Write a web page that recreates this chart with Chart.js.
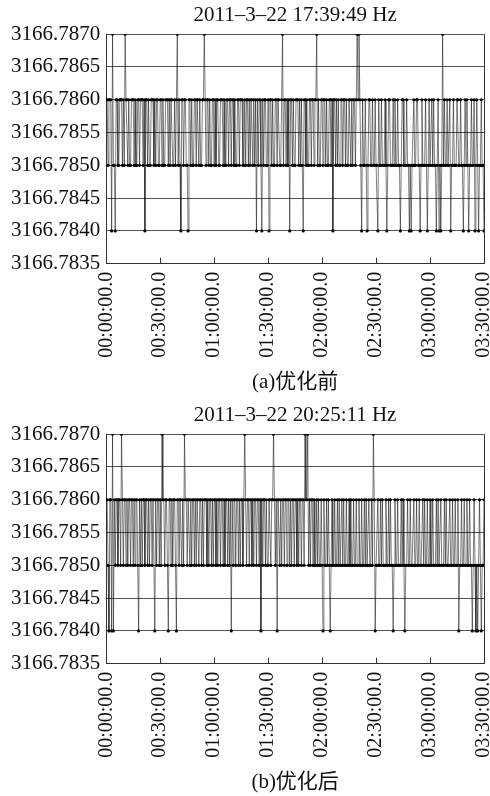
<!DOCTYPE html>
<html>
<head>
<meta charset="utf-8">
<script src="https://cdn.jsdelivr.net/npm/chart.js@4/dist/chart.umd.min.js"></script>
<style>
  html, body { margin: 0; padding: 0; background: #fff; overflow: hidden; }
  .box { position: relative; width: 490px; height: 400px; }
</style>
</head>
<body>
<div class="box"><canvas id="chart-a"></canvas></div>
<div class="box"><canvas id="chart-b"></canvas></div>
<script>
// quantised readout levels (Hz)
const U = 3166.7870, H = 3166.7860, L = 3166.7850, D = 3166.7840;

// readings every 30 s, 00:00:00 .. 03:30:00
const valuesBefore = [
  H, H, L, H, H, H, D, U, L, L,  D, H, H, L, L, H, H, H, L, H,
  L, U, H, H, L, H, L, L, H, H,  H, L, H, L, L, H, H, L, H, H,
  H, L, H, D, H, H, L, H, L, L,  H, H, H, L, H, L, H, H, L, L,
  H, H, L, H, L, L, H, H, H, L,  H, L, H, H, L, L, H, L, H, U,
  L, H, L, D, H, H, L, H, H, L,  L, D, H, H, L, H, L, L, H, H,
  L, H, H, L, H, L, L, H, H, U,  H, L, H, H, L, H, L, L, H, H,
  L, H, L, H, H, L, L, H, H, H,  L, H, L, L, H, H, L, H, H, L,
  H, H, L, H, L, L, H, H, L, H,  H, H, L, L, H, L, H, H, L, H,
  L, H, H, L, H, L, H, D, H, L,  H, H, L, D, H, L, H, H, L, L,
  H, D, H, H, L, H, L, L, H, H,  L, H, H, L, L, H, U, L, H, H,
  L, H, L, H, D, H, H, L, H, L,  L, H, H, H, L, H, L, H, L, D,
  H, H, L, H, L, L, H, H, L, H,  H, L, H, H, U, L, H, L, L, H,
  H, L, H, H, L, H, L, L, H, H,  L, H, D, H, H, L, H, L, H, L,
  L, H, H, L, H, H, L, H, L, L,  H, H, L, H, L, H, H, L, H, U,
  H, U, H, L, D, H, L, L, H, L,  D, L, H, H, L, L, H, L, L, H,
  L, L, D, H, L, L, H, L, L, L,  H, L, D, L, H, H, L, L, L, H,
  L, H, L, L, H, L, L, D, L, H,  H, L, L, L, H, L, L, D, L, D,
  L, L, H, L, L, H, H, L, L, D,  L, H, L, L, L, H, L, D, L, H,
  L, L, H, L, H, L, L, D, L, H,  D, L, D, L, U, L, H, L, L, H,
  L, L, H, D, L, L, H, L, L, L,  H, H, L, L, H, L, L, D, L, H,
  L, H, L, D, L, L, H, L, L, H,  D, L, H, L, D, L, L, H, L, L,
  D
];

const valuesAfter = [
  H, H, L, D, H, H, D, U, D, H,  L, H, H, L, H, H, L, U, H, L,
  H, H, L, H, L, H, H, L, H, H,  L, H, L, H, H, L, D, H, L, H,
  L, H, H, L, H, H, L, H, L, H,  H, L, H, H, D, H, L, H, H, L,
  H, L, U, H, H, L, H, H, L, D,  H, H, L, H, L, H, H, L, D, H,
  H, L, H, H, L, H, L, U, H, H,  L, H, H, L, H, L, H, H, L, H,
  L, H, H, L, H, H, L, H, L, H,  H, H, L, H, L, H, H, L, H, L,
  H, H, L, H, L, H, H, L, H, H,  L, H, L, H, H, L, H, L, H, D,
  H, L, H, H, L, H, H, L, H, L,  H, H, L, H, U, H, L, H, H, L,
  H, H, L, H, L, H, H, L, H, H,  L, H, D, H, L, H, H, L, H, L,
  L, H, H, L, H, H, U, H, L, H,  D, H, H, L, H, L, H, H, L, H,
  H, L, H, H, L, H, L, H, H, L,  H, H, L, H, L, H, H, L, H, H,
  L, U, H, H, U, L, H, L, H, H,  L, H, L, L, H, L, H, L, L, H,
  L, D, H, L, L, H, L, H, L, D,  L, H, L, L, H, L, L, H, L, H,
  L, L, H, L, H, L, L, H, L, L,  H, L, H, L, L, H, L, L, H, L,
  L, H, L, L, H, L, L, H, L, H,  L, L, H, L, L, H, L, U, H, D,
  L, L, H, L, L, H, L, H, L, L,  L, H, L, L, H, L, H, L, L, D,
  L, H, L, L, H, L, L, L, H, L,  H, L, D, L, L, H, L, L, H, L,
  L, L, H, L, L, H, L, L, H, L,  L, L, H, L, H, L, L, H, L, L,
  H, L, L, H, L, L, L, H, L, H,  L, L, H, L, L, L, H, L, H, L,
  L, L, H, L, L, H, L, L, H, L,  L, H, D, L, L, H, L, L, H, L,
  L, H, L, L, H, L, L, D, L, H,  L, D, L, D, L, H, L, D, L, L,
  H
];

// Axis ticks
const yTickValues = [3166.7835, 3166.7840, 3166.7845, 3166.7850, 3166.7855, 3166.7860, 3166.7865, 3166.7870];
const xTickMinutes = [0, 30, 60, 90, 120, 150, 180, 210];
const xTickLabels = ['00:00:00.0', '00:30:00.0', '01:00:00.0', '01:30:00.0',
                     '02:00:00.0', '02:30:00.0', '03:00:00.0', '03:30:00.0'];
const sampleStepMin = 0.5;

const serif = "'Liberation Serif', 'Noto Sans CJK SC', serif";
Chart.defaults.font.family = serif;
Chart.defaults.color = '#111';

// right border of the plot plus the small inward ticks on the time axis
const framePlugin = {
  id: 'frame',
  beforeDatasetsDraw(chart) {
    const { ctx, chartArea, scales } = chart;
    ctx.save();
    ctx.strokeStyle = '#333';
    ctx.lineWidth = 1;
    ctx.beginPath();
    ctx.moveTo(Math.round(chartArea.right) + 0.5, chartArea.top);
    ctx.lineTo(Math.round(chartArea.right) + 0.5, chartArea.bottom);
    scales.x.ticks.forEach(t => {
      const px = Math.round(scales.x.getPixelForValue(t.value)) + 0.5;
      ctx.moveTo(px, chartArea.bottom);
      ctx.lineTo(px, chartArea.bottom - 6);
    });
    ctx.stroke();
    ctx.restore();
  }
};

function makeChart(id, title, caption, values) {
  const points = values.map((v, i) => ({ x: i * sampleStepMin, y: v }));
  return new Chart(document.getElementById(id), {
    type: 'line',
    data: {
      datasets: [{
        data: points,
        borderColor: 'rgba(0,0,0,0.5)',
        borderWidth: 1,
        pointRadius: 1.6,
        pointBackgroundColor: '#000',
        pointBorderWidth: 0,
        pointHoverRadius: 0
      }]
    },
    options: {
      responsive: true,
      maintainAspectRatio: false,
      animation: false,
      layout: { padding: { left: 5, right: 6, top: 0, bottom: 0 } },
      plugins: {
        legend: { display: false },
        tooltip: { enabled: false },
        title: {
          display: true,
          text: title,
          fullSize: false,
          font: { size: 21, weight: 'normal' },
          padding: { top: 3, bottom: 6 }
        },
        subtitle: {
          display: true,
          text: caption,
          position: 'bottom',
          fullSize: false,
          font: { size: 21, weight: 'normal' },
          color: '#111',
          padding: { top: 12, bottom: 5 }
        }
      },
      scales: {
        x: {
          type: 'linear',
          min: 0,
          max: 210,
          afterBuildTicks: s => { s.ticks = xTickMinutes.map(v => ({ value: v })); },
          afterFit: s => { s.paddingRight = 0; },
          grid: { display: false },
          border: { display: true, color: '#333' },
          ticks: {
            autoSkip: false,
            minRotation: 90,
            maxRotation: 90,
            padding: 0,
            font: { size: 20 },
            callback: (v, i) => xTickLabels[i]
          }
        },
        y: {
          min: 3166.7835,
          max: 3166.787,
          afterBuildTicks: s => { s.ticks = yTickValues.map(v => ({ value: v })); },
          grid: { color: '#555', drawTicks: false },
          border: { display: true, color: '#333' },
          ticks: {
            padding: 6,
            font: { size: 21 },
            callback: v => v.toFixed(4)
          }
        }
      }
    },
    plugins: [framePlugin]
  });
}

makeChart('chart-a', '2011–3–22 17:39:49 Hz', '(a)优化前', valuesBefore);
makeChart('chart-b', '2011–3–22 20:25:11 Hz', '(b)优化后', valuesAfter);
</script>
</body>
</html>
